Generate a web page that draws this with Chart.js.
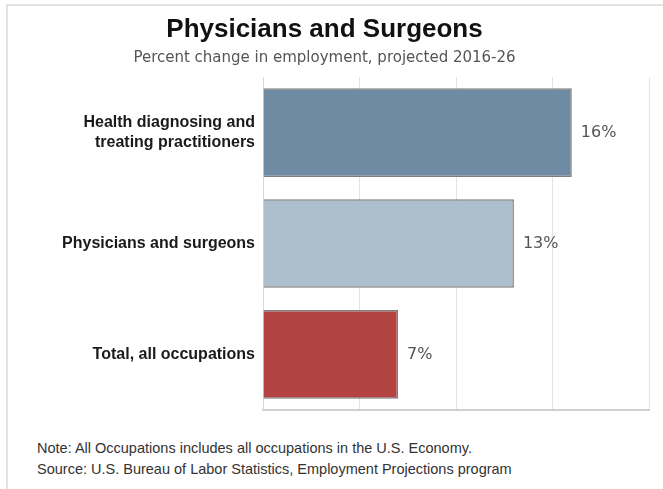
<!DOCTYPE html>
<html>
<head>
<meta charset="utf-8">
<script src="https://cdn.jsdelivr.net/npm/chart.js@4.4.0/dist/chart.umd.min.js"></script>
<style>
  body { margin: 0; background: #fff; }
  #frame { position: absolute; left: 6px; top: 4px; width: 700px; height: 520px; border: 2px solid #e2e2e2; box-sizing: border-box; }
  #wrap { position: absolute; left: 0; top: 0; width: 663px; height: 437px; }
  .foot { position: absolute; left: 37px; font-family: "Liberation Sans", sans-serif; font-size: 14.5px; color: #333; white-space: nowrap; }
</style>
</head>
<body>
<div id="frame"></div>
<div id="wrap"><canvas id="myChart"></canvas></div>
<div class="foot" style="top:440px">Note: All Occupations includes all occupations in the U.S. Economy.</div>
<div class="foot" style="top:461px">Source: U.S. Bureau of Labor Statistics, Employment Projections program</div>
<script>
const categories = [['Health diagnosing and', 'treating practitioners'], 'Physicians and surgeons', 'Total, all occupations'];
const values = [16, 13, 7];
const barColors = ['#6e8ba3', '#adbfcc', '#b34242'];
const xTicks = [0, 5, 10, 15, 20];

// draws "16%" etc. after the end of each bar
const valueLabels = {
    id: 'valueLabels',
    afterDatasetsDraw(chart) {
        const ctx = chart.ctx;
        const meta = chart.getDatasetMeta(0);
        ctx.save();
        ctx.font = '16px "DejaVu Sans"';
        ctx.fillStyle = '#555';
        ctx.textBaseline = 'middle';
        meta.data.forEach((bar, i) => {
            ctx.fillText(values[i] + '%', bar.x + 9, bar.y);
        });
        ctx.restore();
    }
};

const ctx = document.getElementById('myChart').getContext('2d');
const chart = new Chart(ctx, {
    type: 'bar',
    data: {
        labels: categories,
        datasets: [{
            data: values,
            backgroundColor: barColors,
            borderColor: '#7d7d7d',
            borderWidth: 1.5,
            borderSkipped: 'start',
            barPercentage: 0.8,
            categoryPercentage: 1
        }]
    },
    options: {
        indexAxis: 'y',
        responsive: true,
        maintainAspectRatio: false,
        animation: false,
        layout: { padding: { left: 0, right: 14, top: 0, bottom: 0 } },
        plugins: {
            legend: { display: false },
            tooltip: { enabled: false },
            title: {
                display: true,
                text: 'Physicians and Surgeons',
                color: '#111',
                font: { family: '"Liberation Sans", Arial', size: 26, weight: 'bold' },
                padding: { top: 14, bottom: 3 }
            },
            subtitle: {
                display: true,
                text: 'Percent change in employment, projected 2016-26',
                color: '#555',
                font: { family: '"DejaVu Sans"', size: 15 },
                padding: { top: 1, bottom: 10 }
            }
        },
        scales: {
            x: {
                min: 0,
                max: 20,
                afterBuildTicks: (scale) => { scale.ticks = xTicks.map(v => ({ value: v })); },
                afterFit: (scale) => { scale.height = 10; },
                ticks: { display: false },
                grid: { color: '#e3e3e3', drawTicks: false },
                border: { color: '#d0d0d0', width: 2 }
            },
            y: {
                afterFit: (scale) => { scale.width = 263; },
                grid: { display: false, drawTicks: false },
                border: { color: '#d8d8d8', width: 1 },
                ticks: {
                    color: '#1a1a1a',
                    padding: 8,
                    font: { family: '"Liberation Sans", Arial', size: 16, weight: 'bold' }
                }
            }
        }
    },
    plugins: [valueLabels]
});
</script>
</body>
</html>
